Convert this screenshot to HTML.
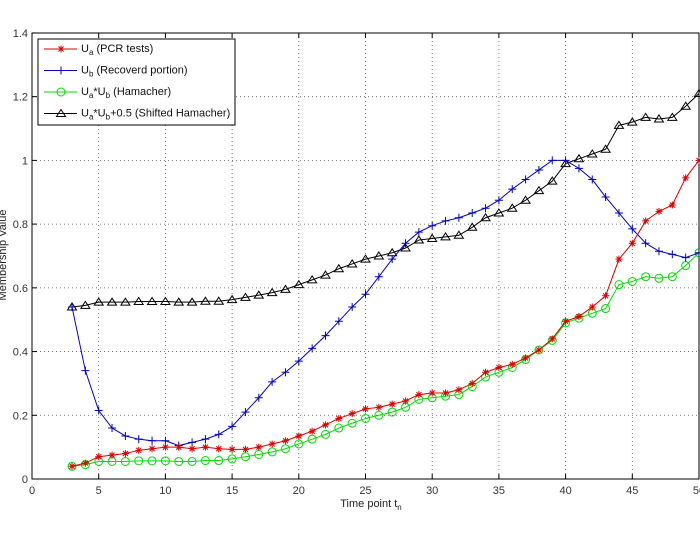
<!DOCTYPE html>
<html><head><meta charset="utf-8"><style>body{margin:0;background:#fff}svg{display:block}</style></head>
<body>
<svg id="s" width="700" height="533" xmlns="http://www.w3.org/2000/svg" font-family="Liberation Sans, sans-serif" font-size="11"></svg>
<script>
const s=document.getElementById('s');
const X=v=>32+v*13.34, Y=v=>479-v*318.6;
let h='';
for(let i=1;i<=10;i++){if(i*5<50)h+=`<line x1="${X(i*5)}" y1="33" x2="${X(i*5)}" y2="479" stroke="#555" stroke-dasharray="1,3" stroke-width="0.8"/>`;}
for(let i=1;i<7;i++)h+=`<line x1="32" y1="${Y(i*0.2)}" x2="700" y2="${Y(i*0.2)}" stroke="#555" stroke-dasharray="1,3" stroke-width="0.8"/>`;
h+=`<rect x="32" y="33" width="667" height="446" fill="none" stroke="#000"/>`;
for(let i=0;i<=10;i++){const x=X(i*5);h+=`<line x1="${x}" y1="479" x2="${x}" y2="474" stroke="#000"/><line x1="${x}" y1="33" x2="${x}" y2="38" stroke="#000"/>`;
h+=`<text x="${x}" y="494" text-anchor="middle" fill="#333">${i*5}</text>`;}
for(let i=0;i<=7;i++){const y=Y(i*0.2);h+=`<line x1="32" y1="${y}" x2="37" y2="${y}" stroke="#000"/><text x="28" y="${y+4}" text-anchor="end" fill="#333">${['0','0.2','0.4','0.6','0.8','1','1.2','1.4'][i]}</text>`;}
h+=`<text x="371" y="507" text-anchor="middle" fill="#222">Time point t<tspan font-size="8" dy="3">n</tspan></text>`;
h+=`<text transform="translate(6,255) rotate(-90)" text-anchor="middle" fill="#222">Membership Value</text>`;
const R=[0.04,0.05,0.07,0.075,0.08,0.09,0.095,0.1,0.1,0.095,0.1,0.095,0.093,0.093,0.1,0.11,0.12,0.135,0.15,0.17,0.19,0.205,0.22,0.225,0.235,0.245,0.265,0.27,0.27,0.28,0.3,0.335,0.35,0.36,0.38,0.405,0.44,0.495,0.51,0.54,0.575,0.69,0.74,0.81,0.84,0.86,0.945,1.0];
const B=[0.54,0.34,0.215,0.16,0.135,0.125,0.12,0.12,0.105,0.115,0.125,0.14,0.165,0.21,0.255,0.305,0.335,0.37,0.41,0.45,0.495,0.54,0.58,0.635,0.69,0.74,0.775,0.795,0.81,0.82,0.835,0.85,0.875,0.91,0.94,0.97,1.0,1.0,0.975,0.94,0.885,0.835,0.785,0.74,0.715,0.705,0.695,0.71];
const G=[0.04,0.045,0.055,0.055,0.055,0.057,0.057,0.057,0.055,0.055,0.058,0.058,0.063,0.07,0.077,0.085,0.095,0.11,0.125,0.14,0.16,0.175,0.19,0.2,0.21,0.225,0.25,0.255,0.26,0.265,0.29,0.32,0.335,0.35,0.375,0.405,0.435,0.49,0.505,0.52,0.535,0.61,0.62,0.635,0.63,0.635,0.67,0.71];
const K=G.map(v=>v+0.5);
function mk(t,x,y,c){
 if(t=='*')return `<path d="M${x-3.5} ${y}h7M${x} ${y-3.5}v7M${x-2.5} ${y-2.5}l5 5M${x-2.5} ${y+2.5}l5 -5" stroke="${c}"/>`;
 if(t=='+')return `<path d="M${x-4} ${y}h8M${x} ${y-4}v8" stroke="${c}"/>`;
 if(t=='o')return `<circle cx="${x}" cy="${y}" r="4" fill="none" stroke="${c}"/>`;
 return `<path d="M${x} ${y-4}L${x+4.5} ${y+3}H${x-4.5}Z" fill="none" stroke="${c}"/>`;}
function ser(d,c,t){let p=d.map((v,i)=>`${X(i+3)},${Y(v)}`).join(' ');let o=`<polyline points="${p}" fill="none" stroke="${c}"/>`;d.forEach((v,i)=>o+=mk(t,X(i+3),Y(v),c));return o;}
h+=ser(K,'#000','^')+ser(G,'#0d0','o')+ser(B,'#00c','+')+ser(R,'#d00','*');
h+=`<rect x="38" y="39" width="197" height="86" fill="#fff" stroke="#000"/>`;
const L=[['#d00','*','U<tspan font-size="8" dy="3">a</tspan><tspan dy="-3"> (PCR tests)</tspan>'],['#00c','+','U<tspan font-size="8" dy="3">b</tspan><tspan dy="-3"> (Recoverd portion)</tspan>'],['#0d0','o','U<tspan font-size="8" dy="3">a</tspan><tspan dy="-3">*U</tspan><tspan font-size="8" dy="3">b</tspan><tspan dy="-3"> (Hamacher)</tspan>'],['#000','^','U<tspan font-size="8" dy="3">a</tspan><tspan dy="-3">*U</tspan><tspan font-size="8" dy="3">b</tspan><tspan dy="-3">+0.5 (Shifted Hamacher)</tspan>']];
L.forEach((l,i)=>{const y=49+i*21.5;h+=`<line x1="44" y1="${y}" x2="77" y2="${y}" stroke="${l[0]}"/>`+mk(l[1],61,y,l[0])+`<text x="81" y="${y+3}" fill="#111">${l[2]}</text>`;});
s.innerHTML=h;
</script>
</body></html>
